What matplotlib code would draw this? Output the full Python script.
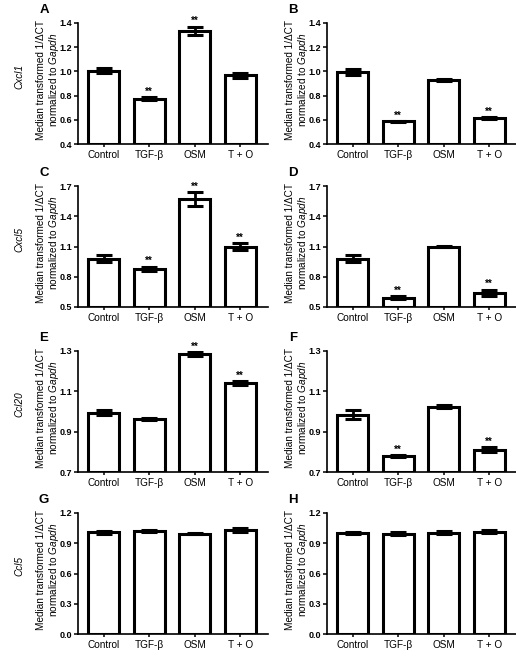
import matplotlib
matplotlib.use('Agg')
import matplotlib.pyplot as plt
import numpy as np

plt.rcParams['font.family'] = ['Liberation Sans', 'DejaVu Sans']
plt.rcParams['mathtext.fontset'] = 'custom'
plt.rcParams['mathtext.rm'] = 'Liberation Sans'
plt.rcParams['mathtext.it'] = 'Liberation Sans:italic'

groups = ['Control', 'TGF-β', 'OSM', 'T + O']
genes = ['Cxcl1', 'Cxcl5', 'Ccl20', 'Ccl5']

# left column (A, C, E, G) and right column (B, D, F, H)
a_mean = [1.005, 0.775, 1.334, 0.967]
a_err = [0.02, 0.012, 0.035, 0.02]
a_star = [1, 2]
b_mean = [0.997, 0.586, 0.929, 0.614]
b_err = [0.025, 0.003, 0.008, 0.008]
b_star = [1, 3]
c_mean = [0.98, 0.88, 1.57, 1.097]
c_err = [0.035, 0.02, 0.07, 0.035]
c_star = [1, 2, 3]
d_mean = [0.98, 0.59, 1.10, 0.64]
d_err = [0.035, 0.015, 0.003, 0.03]
d_star = [1, 3]
e_mean = [0.995, 0.964, 1.284, 1.14]
e_err = [0.012, 0.006, 0.01, 0.01]
e_star = [2, 3]
f_mean = [0.985, 0.78, 1.023, 0.811]
f_err = [0.02, 0.004, 0.008, 0.012]
f_star = [1, 3]
g_mean = [1.01, 1.023, 0.996, 1.036]
g_err = [0.015, 0.008, 0.003, 0.02]
g_star = []
h_mean = [1.003, 0.996, 1.006, 1.016]
h_err = [0.012, 0.012, 0.018, 0.012]
h_star = []

row_ylim = [(0.4, 1.4), (0.5, 1.7), (0.7, 1.3), (0.0, 1.2)]
row_ticks = [np.arange(0.4, 1.41, 0.2), np.arange(0.5, 1.71, 0.3),
             np.arange(0.7, 1.31, 0.2), np.arange(0.0, 1.21, 0.3)]

panels = [
    [('A', a_mean, a_err, a_star), ('B', b_mean, b_err, b_star)],
    [('C', c_mean, c_err, c_star), ('D', d_mean, d_err, d_star)],
    [('E', e_mean, e_err, e_star), ('F', f_mean, f_err, f_star)],
    [('G', g_mean, g_err, g_star), ('H', h_mean, h_err, h_star)],
]

W, H = 516, 656
fig = plt.figure(figsize=(W / 100, H / 100), dpi=100)

ax_bottoms = [144, 307, 472, 634]
ax_lefts = [78, 327]
ax_w = 190
ax_h = 121

x = np.arange(4)
for r in range(4):
    lo, hi = row_ylim[r]
    for c in range(2):
        letter, mean, err, star = panels[r][c]
        left = ax_lefts[c]
        bot = ax_bottoms[r]
        ax = fig.add_axes([left / W, 1 - bot / H, ax_w / W, ax_h / H])
        heights = np.array(mean) - lo
        ax.bar(x, heights, bottom=lo, width=0.68, color='white',
               edgecolor='black', linewidth=2.2, zorder=2)
        ax.errorbar(x, mean, yerr=err, fmt='none', ecolor='black',
                    elinewidth=2.0, capsize=6, capthick=2.2, zorder=3)
        for i in star:
            ax.annotate('**', (x[i], mean[i] + err[i]), xytext=(0, 0.5),
                        textcoords='offset points', ha='center', va='bottom',
                        fontsize=7, fontweight='bold')
        ax.set_xlim(-0.56, 3.61)
        ax.set_ylim(lo, hi)
        ax.set_yticks(row_ticks[r])
        ax.set_yticklabels(['%.1f' % t for t in row_ticks[r]],
                           fontsize=6.5, fontweight='bold')
        ax.set_xticks(x)
        ax.set_xticklabels(groups, fontsize=7.2)
        for s in ['top', 'right']:
            ax.spines[s].set_visible(False)
        for s in ['left', 'bottom']:
            ax.spines[s].set_linewidth(1.2)
        ax.tick_params(axis='y', length=3, width=1.1, pad=1)
        ax.tick_params(axis='x', length=2.5, width=1.1, pad=2)
        ax.set_ylabel('Median transformed 1/ΔCT\nnormalized to $\\mathit{Gapdh}$',
                      fontsize=7.2, linespacing=1.12)
        ax.yaxis.set_label_coords(-0.09, 0.53)
        fig.text((left - 34) / W, 1 - (bot - ax_h - 13) / H, letter,
                 fontsize=9.5, fontweight='bold', ha='center', va='center')
    fig.text(19 / W, 1 - (ax_bottoms[r] - 68) / H, genes[r], rotation=90,
             fontsize=7.2, style='italic', ha='center', va='center')

fig.savefig('out.png', dpi=100)
